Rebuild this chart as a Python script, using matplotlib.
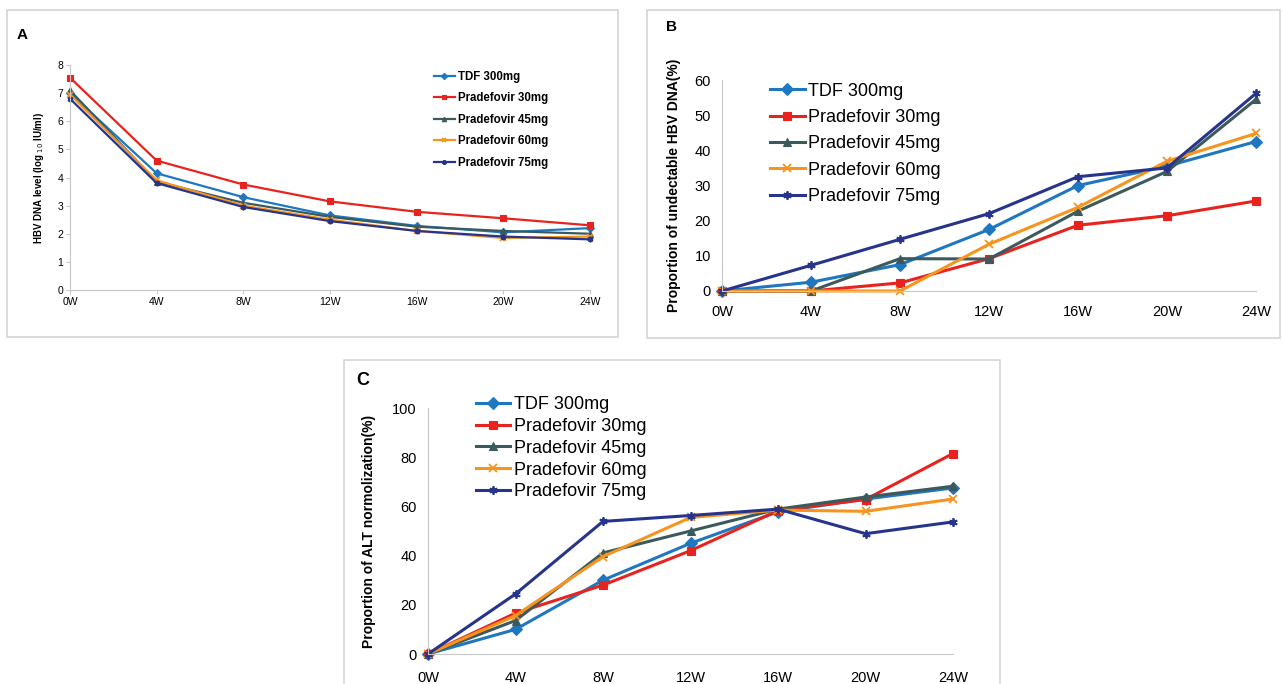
import matplotlib.pyplot as plt
from matplotlib.patches import Rectangle

plt.rcParams['font.family'] = ['Liberation Sans', 'DejaVu Sans']

weeks = ['0W', '4W', '8W', '12W', '16W', '20W', '24W']
groups = ['TDF 300mg', 'Pradefovir 30mg', 'Pradefovir 45mg',
          'Pradefovir 60mg', 'Pradefovir 75mg']

# A: HBV DNA level (log10 IU/ml)
dna_tdf = [7.0, 4.15, 3.3, 2.65, 2.28, 2.05, 2.2]
dna_p30 = [7.55, 4.6, 3.75, 3.15, 2.78, 2.55, 2.3]
dna_p45 = [7.1, 3.85, 3.1, 2.6, 2.25, 2.1, 2.0]
dna_p60 = [6.95, 3.9, 3.0, 2.5, 2.1, 1.85, 1.9]
dna_p75 = [6.8, 3.8, 2.95, 2.45, 2.1, 1.9, 1.8]

# B: proportion of undetectable HBV DNA (%)
und_tdf = [0, 2.5, 7.5, 17.5, 30.0, 35.5, 42.5]
und_p30 = [0, 0, 2.3, 9.2, 18.7, 21.4, 25.6]
und_p45 = [0, 0, 9.2, 9.1, 22.7, 34.0, 54.5]
und_p60 = [0, 0, 0, 13.3, 23.8, 36.9, 44.8]
und_p75 = [0, 7.3, 14.7, 22.0, 32.5, 35.0, 56.2]

# C: proportion of ALT normalization (%)
alt_tdf = [0, 10.0, 30.0, 45.0, 57.8, 63.0, 67.5]
alt_p30 = [0, 16.6, 28.0, 42.0, 58.3, 62.8, 81.5]
alt_p45 = [0, 13.6, 41.1, 50.0, 58.9, 63.8, 68.2]
alt_p60 = [0, 15.6, 39.6, 55.5, 58.5, 58.0, 63.0]
alt_p75 = [0, 24.4, 53.9, 56.3, 58.9, 48.9, 53.7]

colors = ['#1f77bf', '#e8231e', '#3c5a5c', '#f7941d', '#27348b']
markers = ['D', 's', '^', 'x', (6, 2, 0)]

W, H = 1283, 684
fig = plt.figure(figsize=(W / 100, H / 100), dpi=100)


def frame(x0, y0, x1, y1):
    fig.patches.append(Rectangle((x0 / W, 1 - y1 / H), (x1 - x0) / W, (y1 - y0) / H,
                                 transform=fig.transFigure, fill=False,
                                 edgecolor='#d4d4d4', linewidth=1.2))


def px_axes(x0, ytop, x1, ybot):
    return fig.add_axes([x0 / W, 1 - ybot / H, (x1 - x0) / W, (ybot - ytop) / H])


def draw(ax, series, msize, lw):
    x = range(len(weeks))
    for vals, c, m, name in zip(series, colors, markers, groups):
        ax.plot(x, vals, color=c, marker=m, markersize=msize, linewidth=lw,
                markeredgewidth=1.3 if m in ('x', (6, 2, 0)) else 0.8,
                label=name, clip_on=False)
    ax.set_xlim(0, 6)
    ax.set_xticks(list(x))
    ax.set_xticklabels(weeks)
    for s in ['top', 'right']:
        ax.spines[s].set_visible(False)
    for s in ['left', 'bottom']:
        ax.spines[s].set_color('#c8c8c8')
    ax.patch.set_alpha(0)


# panel A
frame(7, 10, 618, 337)
axA = px_axes(70, 65, 590, 290)
draw(axA, [dna_tdf, dna_p30, dna_p45, dna_p60, dna_p75], 4, 1.6)
axA.set_ylim(0, 8)
axA.set_yticks(range(9))
axA.tick_params(labelsize=7.5, length=3, color='#c8c8c8', pad=2)
axA.set_ylabel('HBV DNA level (log$_{\\ 10}$ IU/ml)', fontsize=7,
               fontweight='bold', labelpad=8)
axA.legend(loc='upper left', bbox_to_anchor=(0.68, 1.02), frameon=False,
           prop={'size': 8.3, 'weight': 'bold'}, handlelength=1.8,
           handletextpad=0.3, labelspacing=0.82, markerscale=0.8)
fig.text(17 / W, 1 - 35 / H, 'A', fontsize=11, fontweight='bold', va='center')

# panel B
frame(647, 10, 1280, 338)
axB = px_axes(722, 80, 1256, 291)
draw(axB, [und_tdf, und_p30, und_p45, und_p60, und_p75], 6, 2.2)
axB.set_ylim(0, 60)
axB.set_yticks(range(0, 61, 10))
axB.tick_params(labelsize=10.5, length=0, pad=8)
axB.tick_params(axis='x', pad=10)
axB.set_ylabel('Proportion of undectable HBV DNA(%)', fontsize=10,
               fontweight='bold', labelpad=10)
axB.legend(loc='upper left', bbox_to_anchor=(0.06, 1.065), frameon=False,
           fontsize=13, handlelength=1.9, handletextpad=0.2,
           labelspacing=0.52, markerscale=1.0)
fig.text(666 / W, 1 - 27 / H, 'B', fontsize=11, fontweight='bold', va='center')

# panel C
frame(344, 360, 1000, 700)
axC = px_axes(428, 408, 953, 654)
draw(axC, [alt_tdf, alt_p30, alt_p45, alt_p60, alt_p75], 6, 2.2)
axC.set_ylim(0, 100)
axC.set_yticks(range(0, 101, 20))
axC.tick_params(labelsize=10.5, length=0, pad=8)
axC.tick_params(axis='x', pad=12)
axC.set_ylabel('Proportion of ALT normolization(%)', fontsize=10,
               fontweight='bold', labelpad=12)
axC.legend(loc='upper left', bbox_to_anchor=(0.06, 1.115), frameon=False,
           fontsize=13, handlelength=1.9, handletextpad=0.2,
           labelspacing=0.27, markerscale=1.0)
fig.text(356 / W, 1 - 381 / H, 'C', fontsize=13, fontweight='bold', va='center')

fig.savefig('out.png', dpi=100)
